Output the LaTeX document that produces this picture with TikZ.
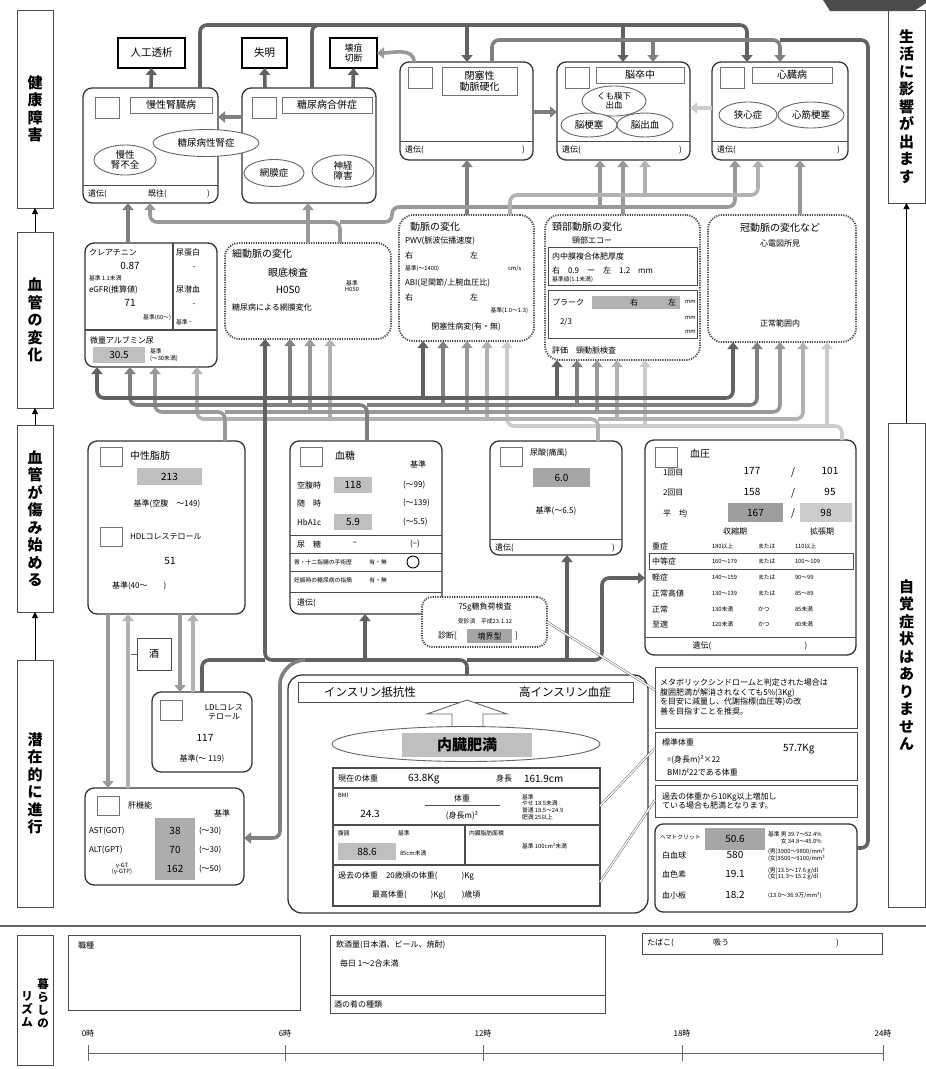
\documentclass[tikz,border=0pt]{standalone}
\usepackage{fontspec}
\setmainfont{Noto Sans CJK JP}
\usetikzlibrary{arrows.meta,shapes.geometric}
\begin{document}
\begin{tikzpicture}[x=1pt,y=-1pt,
 every node/.style={inner sep=0pt,outer sep=0pt},
 rbox/.style={draw=black!80,line width=1.3pt,rounded corners=9pt,anchor=north west},
 dbox/.style={draw=black!70,line width=1.8pt,dash pattern=on 1.2pt off 1.2pt,rounded corners=14pt,anchor=north west},
 pbox/.style={draw=black!70,line width=0.9pt,anchor=north west},
 obox/.style={draw=black,line width=2.2pt,anchor=north west,font=\fontsize{10.5}{11}\selectfont,align=center},
 lbl/.style={draw=black!70,line width=0.9pt,anchor=north west},
 vtx/.style={font=\fontsize{15}{17.5}\selectfont\bfseries,align=center},
 sqr/.style={draw=black!55,line width=0.9pt,minimum width=24pt,minimum height=21pt,anchor=north west},
 ttl/.style={draw=black!55,line width=0.9pt,anchor=north west,font=\fontsize{10}{11}\selectfont,align=center},
 ell/.style={draw=black!60,line width=0.9pt,ellipse,fill=white,font=\fontsize{9.5}{10}\selectfont,align=center},
 shd/.style={fill=black!25,anchor=north west,font=\fontsize{10}{11}\selectfont},
 txl/.style={font=\fontsize{11.5}{12}\selectfont},
 tx/.style={font=\fontsize{10}{11}\selectfont},
 txs/.style={font=\fontsize{8}{9.5}\selectfont},
 txt/.style={font=\fontsize{5.8}{6.6}\selectfont},
 lft/.style={anchor=west}, rgt/.style={anchor=east},
 thinl/.style={draw=black!70,line width=0.9pt},
 cn/.style={line width=3.6pt,rounded corners=7pt},
 ca/.style={cn,-{Triangle[width=11pt,length=7pt]}},
 c1/.style={draw=black!62}, c2/.style={draw=black!50}, c3/.style={draw=black!40},
 c4/.style={draw=black!30}, c5/.style={draw=black!20},
 upar/.style={draw=black,line width=0.9pt,-{Triangle[width=6pt,length=6pt]}},
 call/.style={draw=black!60,line width=0.5pt,double=white,double distance=1.3pt},
]
\useasboundingbox (0,0) rectangle (926,1069);
\fill[white] (0,0) rectangle (926,1069);
\fill[black!70] (823,0) -- (926,0) -- (926,3) -- (914,11) -- (830,11) -- cycle;

% ---------- side labels ----------
\node[lbl,minimum width=36,minimum height=198] (L1) at (17,10) {};
\node[vtx] (L1t) at (L1.center) {健\\康\\障\\害};
\node[lbl,minimum width=36,minimum height=176] (L2) at (17,232) {};
\node[vtx] (L2t) at (L2.center) {血\\管\\の\\変\\化};
\node[lbl,minimum width=36,minimum height=187] (L3) at (17,425) {};
\node[vtx] (L3t) at (L3.center) {血\\管\\が\\傷\\み\\始\\め\\る};
\node[lbl,minimum width=36,minimum height=247] (L4) at (17,660) {};
\node[vtx] (L4t) at (L4.center) {潜\\在\\的\\に\\進\\行};
\node[lbl,minimum width=37,minimum height=193] (R1) at (888,10) {};
\node[vtx] (R1t) at (R1.center) {生\\活\\に\\影\\響\\が\\出\\ま\\す};
\node[lbl,minimum width=37,minimum height=484] (R2) at (888,423) {};
\node[vtx] (R2t) at (R2.center) {自\\覚\\症\\状\\は\\あ\\り\\ま\\せ\\ん};
\draw[upar] (L2.north) -- (L1.south);
\draw[upar] (L3.north) -- (L2.south);
\draw[upar] (L4.north) -- (L3.south);
\draw[upar] (R2.north) -- (R1.south);

% ---------- row 1 ----------
\node[obox,minimum width=67,minimum height=30] (tou) at (118,38) {人工透析};
\node[obox,minimum width=45,minimum height=30] (shitsu) at (242,38) {失明};
\node[obox,minimum width=47,minimum height=30,font=\fontsize{9}{10}\selectfont] (eso) at (330,38) {壊疽\\切断};

\node[rbox,minimum width=135,minimum height=115] (ckd) at (83,88) {};
\node[sqr] (ckdsq) at (95,97) {};
\node[ttl,minimum width=82,minimum height=16] (ckdtl) at (130,97) {慢性腎臓病};
\draw[thinl] (ckd.west |- 0,185) -- (ckd.east |- 0,185);
\node[txs,lft] (ckdg) at (88,194) {遺伝(};
\node[txs,lft] (ckdk) at (148,194) {既往(};
\node[txs,lft] (ckdp) at (207,194) {)};

\node[rbox,minimum width=134,minimum height=115] (dm) at (242,88) {};
\node[sqr] (dmsq) at (252,97) {};
\node[ttl,minimum width=90,minimum height=16] (dmtl) at (282,97) {糖尿病合併症};
\node[ell,minimum width=60,minimum height=27] (e3) at (274,173) {網膜症};
\node[ell,minimum width=62,minimum height=32] (e4) at (343,171) {神経\\障害};
\node[ell,minimum width=62,minimum height=30] (e2) at (125,160) {慢性\\腎不全};
\node[ell,minimum width=106,minimum height=27] (e1) at (206,143) {糖尿病性腎症};

\node[rbox,minimum width=133,minimum height=98] (aso) at (400,62) {};
\node[sqr] (asosq) at (408,67) {};
\node[ttl,minimum width=75,minimum height=28] (asotl) at (442,67) {閉塞性\\動脈硬化};
\draw[thinl] (aso.west |- 0,141) -- (aso.east |- 0,141);
\node[txs,lft] (asog) at (405,150) {遺伝(};
\node[txs,lft] (asop) at (522,150) {)};

\node[rbox,minimum width=133,minimum height=98] (stk) at (557,62) {};
\node[sqr] (stksq) at (565,67) {};
\node[ttl,minimum width=88,minimum height=16] (stktl) at (596,67) {脳卒中};
\node[ell,minimum width=64,minimum height=30,font=\fontsize{8.5}{9}\selectfont] (e5) at (614,101) {くも膜下\\出血};
\node[ell,minimum width=56,minimum height=24] (e6) at (589,125) {脳梗塞};
\node[ell,minimum width=56,minimum height=24] (e7) at (645,125) {脳出血};
\draw[thinl] (stk.west |- 0,141) -- (stk.east |- 0,141);
\node[txs,lft] (stkg) at (562,150) {遺伝(};
\node[txs,lft] (stkp) at (679,150) {)};

\node[rbox,minimum width=136,minimum height=98] (heart) at (712,62) {};
\node[sqr] (hsq) at (720,67) {};
\node[ttl,minimum width=80,minimum height=16] (htl) at (752,67) {心臓病};
\node[ell,minimum width=58,minimum height=26] (e8) at (748,115) {狭心症};
\node[ell,minimum width=66,minimum height=26] (e9) at (811,115) {心筋梗塞};
\draw[thinl] (heart.west |- 0,141) -- (heart.east |- 0,141);
\node[txs,lft] (hg) at (717,150) {遺伝(};
\node[txs,lft] (hp) at (837,150) {)};

% ---------- row 2 ----------
\node[rbox,minimum width=132,minimum height=124] (kt) at (85,243) {};
\draw[thinl,line width=1.2pt] (173,243) -- (173,330);
\draw[thinl,line width=1.2pt] (kt.west |- 0,330) -- (kt.east |- 0,330);
\node[txs,lft] (k1) at (89,252) {クレアチニン};
\node[tx] (k2) at (130,266) {0.87};
\node[txt,lft] (k3) at (89,278) {基準 1.1未満};
\node[txs,lft] (k4) at (89,290) {eGFR(推算値)};
\node[tx] (k5) at (130,303) {71};
\node[txt,rgt] (k6) at (171,318) {基準(60～)};
\node[txs,lft] (k7) at (176,252) {尿蛋白};
\node[txs] (k8) at (194,268) {-};
\node[txs,lft] (k9) at (176,289) {尿潜血};
\node[txs] (k10) at (194,305) {-};
\node[txt,lft] (k11) at (176,322) {基準 −};
\node[txs,lft] (k12) at (90,340) {微量アルブミン尿};
\node[shd,minimum width=52,minimum height=16] (k13) at (93,347) {30.5};
\node[txt,lft,align=left] (k14) at (150,355) {基準\\(～30未満)};

\node[dbox,minimum width=166,minimum height=96] (eye) at (225,243) {};
\node[tx,lft] (y1) at (232,254) {細動脈の変化};
\node[tx] (y2) at (288,273) {眼底検査};
\node[tx] (y3) at (288,290) {H0S0};
\node[txt,align=center] (y4) at (352,286) {基準\\H0S0};
\node[txs,lft] (y5) at (232,307) {糖尿病による網膜変化};

\node[dbox,minimum width=135,minimum height=126] (art) at (399,215) {};
\node[tx,lft] (a1) at (410,227) {動脈の変化};
\node[txs,lft] (a2) at (405,241) {PWV(脈波伝播速度)};
\node[txs,lft] (a3) at (405,255) {右};
\node[txs,lft] (a4) at (470,255) {左};
\node[txt,lft] (a5) at (405,269) {基準(～1400)};
\node[txt,lft] (a6) at (508,269) {cm/s};
\node[txs,lft] (a7) at (405,283) {ABI(足関節/上腕血圧比)};
\node[txs,lft] (a8) at (405,297) {右};
\node[txs,lft] (a9) at (470,297) {左};
\node[txt,rgt] (a10) at (528,311) {基準(1.0～1.3)};
\node[txs] (a11) at (466,327) {閉塞性病変(有・無)};

\node[dbox,minimum width=155,minimum height=145] (car) at (545,215) {};
\node[tx,lft] (r1) at (552,227) {頸部動脈の変化};
\node[txs] (r2) at (592,240) {頸部エコー};
\node[pbox,minimum width=149,minimum height=38] (r3) at (548,247) {};
\node[txs,lft] (r4) at (552,256) {内中膜複合体肥厚度};
\node[txs,lft] (r5) at (552,270) {右　0.9　ー　左　1.2　mm};
\node[txt,lft] (r6) at (552,280) {基準値(1.1未満)};
\node[pbox,minimum width=149,minimum height=48] (r7) at (548,290) {};
\node[txs,lft] (r8) at (552,302) {プラーク};
\node[fill=black!30,anchor=north west,minimum width=88,minimum height=13] (r9) at (592,296) {};
\node[txs] (r10) at (634,302) {右};
\node[txs] (r11) at (672,302) {左};
\node[txt,lft] (r12) at (685,302) {mm};
\node[txs,lft] (r13) at (560,322) {2/3};
\node[txt,lft] (r14) at (685,318) {mm};
\node[txt,lft] (r15) at (685,332) {mm};
\node[txs,lft] (r16) at (552,350) {評価　頸動脈検査};

\node[dbox,minimum width=148,minimum height=127] (ecg) at (708,215) {};
\node[tx] (g1) at (780,228) {冠動脈の変化など};
\node[txs] (g2) at (780,243) {心電図所見};
\node[txs] (g3) at (780,323) {正常範囲内};

% ---------- row 3 ----------
\node[rbox,minimum width=157,minimum height=173] (fat) at (88,441) {};
\node[sqr,minimum width=22,minimum height=19] (fsq1) at (100,447) {};
\node[tx,lft] (f1) at (130,456) {中性脂肪};
\node[shd,minimum width=65,minimum height=17] (f2) at (137,468) {213};
\node[txs] (f3) at (167,504) {基準(空腹　～149)};
\node[sqr,minimum width=22,minimum height=19] (fsq2) at (100,527) {};
\node[txs,lft] (f4) at (130,537) {HDLコレステロール};
\node[tx] (f5) at (170,561) {51};
\node[txs,lft] (f6) at (112,586) {基準(40～　　)};

\node[rbox,minimum width=152,minimum height=173] (sugar) at (290,441) {};
\node[sqr,minimum width=22,minimum height=19] (ssq) at (300,447) {};
\node[tx,lft] (s1) at (335,456) {血糖};
\node[txs,lft] (s2) at (410,464) {基準};
\node[txs,lft] (s3) at (297,485) {空腹時};
\node[shd,minimum width=38,minimum height=16] (s4) at (334,477) {118};
\node[txs,lft] (s5) at (403,485) {(～99)};
\node[txs,lft] (s6) at (297,503) {随　時};
\node[txs,lft] (s7) at (403,503) {(～139)};
\node[txs,lft] (s8) at (297,522) {HbA1c};
\node[shd,minimum width=38,minimum height=16] (s9) at (334,514) {5.9};
\node[txs,lft] (s10) at (403,522) {(～5.5)};
\draw[thinl] (sugar.west |- 0,535) -- (sugar.east |- 0,535);
\node[txs,lft] (s11) at (297,544) {尿　糖};
\node[txs] (s12) at (355,544) {−};
\node[txs,lft] (s13) at (410,544) {(−)};
\draw[thinl] (sugar.west |- 0,553) -- (sugar.east |- 0,553);
\node[txt,lft] (s14) at (294,562) {胃・十二指腸の手術歴　　　有・無};
\draw[black,line width=0.9pt] (413,562) circle (6);
\draw[thinl] (sugar.west |- 0,571) -- (sugar.east |- 0,571);
\node[txt,lft] (s15) at (294,580) {妊娠時の糖尿病の指摘　　　有・無};
\draw[thinl] (sugar.west |- 0,592) -- (sugar.east |- 0,592);
\node[txs,lft] (s16) at (297,603) {遺伝(};
\node[txs,lft] (s17) at (432,603) {)};

\node[rbox,minimum width=132,minimum height=114] (uric) at (490,441) {};
\node[sqr,minimum width=22,minimum height=19] (usq) at (500,447) {};
\node[txs,lft] (u1) at (530,453) {尿酸(痛風)};
\node[shd,minimum width=57,minimum height=19,fill=black!35] (u2) at (533,468) {6.0};
\node[txs] (u3) at (556,511) {基準(～6.5)};
\draw[thinl] (uric.west |- 0,539) -- (uric.east |- 0,539);
\node[txs,lft] (u4) at (495,548) {遺伝(};
\node[txs,lft] (u5) at (612,548) {)};

\node[rbox,minimum width=211,minimum height=215] (bp) at (645,440) {};
\node[sqr,minimum width=22,minimum height=20] (bsq) at (655,447) {};
\node[tx,lft] (b1) at (690,454) {血圧};
\node[txs,lft] (b2) at (663,473) {1回目};
\node[tx] (b3) at (752,471) {177};
\node[tx] (b4) at (793,472) {/};
\node[tx] (b5) at (830,471) {101};
\node[txs,lft] (b6) at (663,493) {2回目};
\node[tx] (b7) at (752,492) {158};
\node[tx] (b8) at (793,493) {/};
\node[tx] (b9) at (830,492) {95};
\node[txs,lft] (b10) at (663,513) {平　均};
\node[shd,minimum width=55,minimum height=19,fill=black!38] (b11) at (728,503) {167};
\node[tx] (b12) at (793,513) {/};
\node[shd,minimum width=52,minimum height=19,fill=black!20] (b13) at (800,503) {98};
\node[txs] (b14) at (735,531) {収縮期};
\node[txs] (b15) at (822,531) {拡張期};
\draw[thinl] (649,553) rectangle (853,569);
\foreach \yy/\lb/\sy/\op/\dy [count=\i] in {546/重症/180以上/または/110以上,561/中等症/160～179/または/100～109,577/軽症/140～159/または/90～99,593/正常高値/130～139/または/85～89,609/正常/130未満/かつ/85未満,624/至適/120未満/かつ/80未満}{
 \node[txs,lft] (bl\i) at (652,\yy) {\lb};
 \node[txt,lft] (bs\i) at (712,\yy) {\sy};
 \node[txt,lft] (bo\i) at (758,\yy) {\op};
 \node[txt,lft] (bd\i) at (795,\yy) {\dy};
}
\draw[thinl] (bp.west |- 0,637) -- (bp.east |- 0,637);
\node[txs] (b16) at (702,646) {遺伝(};
\node[txs] (b17) at (806,646) {)};

\node[dbox,minimum width=125,minimum height=50,rounded corners=10pt,fill=white] (ogtt) at (422,597) {};
\node[txs] (o1) at (485,607) {75g糖負荷検査};
\node[txt] (o2) at (485,621) {受診済　平成23.1.12};
\node[txs,lft] (o3) at (438,636) {診断[};
\node[shd,minimum width=45,minimum height=14,fill=black!35,font=\fontsize{8}{9}\selectfont] (o4) at (467,629) {境界型};
\node[txs,lft] (o5) at (515,636) {]};

% ---------- row 4 ----------
\node[pbox,minimum width=34,minimum height=32,font=\fontsize{10}{11}\selectfont] (sake) at (137,638) {酒};

\node[rbox,minimum width=100,minimum height=80] (ldl) at (152,692) {};
\node[sqr,minimum width=22,minimum height=20] (lsq) at (160,700) {};
\node[txs,align=center] (l1) at (224,712) {LDLコレス\\テロール};
\node[tx] (l2) at (205,738) {117};
\node[txs] (l3) at (202,759) {基準(～ 119)};

\node[rbox,minimum width=159,minimum height=97] (liver) at (85,788) {};
\node[sqr,minimum width=22,minimum height=19] (vsq) at (97,796) {};
\node[txs,lft] (v1) at (128,805) {肝機能};
\node[txs] (v2) at (222,813) {基準};
\node[fill=black!32,anchor=north west,minimum width=40,minimum height=62] (v3) at (155,818) {};
\node[txs,lft] (v4) at (89,831) {AST(GOT)};
\node[tx] (v5) at (175,831) {38};
\node[txs,lft] (v6) at (199,831) {(～30)};
\node[txs,lft] (v7) at (89,850) {ALT(GPT)};
\node[tx] (v8) at (175,850) {70};
\node[txs,lft] (v9) at (199,850) {(～30)};
\node[txt,align=center] (v10) at (122,869) {γ-GT\\(γ-GTP)};
\node[tx] (v11) at (175,869) {162};
\node[txs,lft] (v12) at (199,869) {(～50)};

\node[rbox,minimum width=360,minimum height=238,rounded corners=14pt] (obes) at (288,675) {};
\node[pbox,minimum width=335,minimum height=20] (bar) at (298,682) {};
\node[txl] (ob1) at (370,692) {インスリン抵抗性};
\node[txl] (ob2) at (565,692) {高インスリン血症};
\draw[black!60,line width=0.9pt,fill=white] (452,740) -- (452,714) -- (427,714) -- (467,700) -- (507,714) -- (483,714) -- (483,740);
\node[ell,minimum width=268,minimum height=35] (oell) at (466,744) {};
\node[shd,minimum width=130,minimum height=24,font=\fontsize{15}{16}\selectfont\bfseries] (ob3) at (402,733) {内臓肥満};
\node[pbox,minimum width=267,minimum height=138,line width=1.3pt] (tbl) at (333,768) {};
\draw[thinl,line width=1.2pt] (tbl.west |- 0,788) -- (tbl.east |- 0,788);
\draw[thinl,line width=1.2pt] (tbl.west |- 0,825) -- (tbl.east |- 0,825);
\draw[thinl,line width=1.2pt] (tbl.west |- 0,865) -- (tbl.east |- 0,865);
\draw[thinl,line width=1.2pt] (465,825) -- (465,865);
\node[txs,lft] (t1) at (338,778) {現在の体重};
\node[tx,lft] (t2) at (408,779) {63.8Kg};
\node[txs,lft] (t3) at (496,778) {身長};
\node[tx,lft] (t4) at (524,779) {161.9cm};
\node[txt,lft] (t5) at (338,795) {BMI};
\node[tx] (t6) at (370,814) {24.3};
\node[txs] (t7) at (462,798) {体重};
\draw[thinl] (425,805) -- (500,805);
\node[txs] (t8) at (462,816) {(身長m)²};
\node[txt,lft,align=left] (t9) at (522,807) {基準\\やせ 18.5未満\\普通 18.5～24.9\\肥満 25以上};
\node[txt,lft] (t10) at (338,833) {腹囲};
\node[txt,lft] (t11) at (398,833) {基準};
\node[shd,minimum width=58,minimum height=17] (t12) at (338,843) {88.6};
\node[txt,lft] (t13) at (400,853) {85cm未満};
\node[txt,lft] (t14) at (469,833) {内臓脂肪面積};
\node[txt,lft] (t15) at (522,846) {基準 100cm²未満};
\node[txs,lft] (t16) at (338,876) {過去の体重　20歳頃の体重(　　　)Kg};
\node[txs,lft] (t17) at (372,895) {最高体重(　　　)Kg(　　)歳頃};

% notes
\node[pbox,minimum width=202,minimum height=61] (nt1) at (655,667) {};
\node[txs,lft,align=left] (nt1t) at (660,697) {メタボリックシンドロームと判定された場合は\\腹囲肥満が解消されなくても5\%(3Kg)\\を目安に減量し、代謝指標(血圧等)の改\\善を目指すことを推奨。};
\node[pbox,minimum width=202,minimum height=48] (nt2) at (655,732) {};
\node[txs,lft] (nt2a) at (662,742) {標準体重};
\node[tx,lft] (nt2b) at (783,749) {57.7Kg};
\node[txs,lft] (nt2c) at (667,760) {=(身長m)²×22};
\node[txs,lft] (nt2d) at (667,772) {BMIが22である体重};
\node[pbox,minimum width=202,minimum height=32] (nt3) at (655,785) {};
\node[txs,lft,align=left] (nt3t) at (662,801) {過去の体重から10Kg以上増加し\\ている場合も肥満となります。};
\node[rbox,minimum width=202,minimum height=88,rounded corners=8pt] (blood) at (655,824) {};
\node[txt,lft] (bd1) at (660,837) {ヘマトクリット};
\node[shd,minimum width=60,minimum height=22,fill=black!35] (bd2) at (705,828) {50.6};
\node[txt,lft,align=left] (bd3) at (768,838) {基準 男 39.7～52.4\%\\　　 女 34.8～45.0\%};
\node[txs,lft] (bd4) at (662,855) {白血球};
\node[tx] (bd5) at (735,855) {580};
\node[txt,lft,align=left] (bd6) at (768,855) {(男)3900～9800/mm³\\(女)3500～9100/mm³};
\node[txs,lft] (bd7) at (662,874) {血色素};
\node[tx] (bd8) at (735,874) {19.1};
\node[txt,lft,align=left] (bd9) at (768,874) {(男)13.5～17.6 g/dl\\(女)11.3～15.2 g/dl};
\node[txs,lft] (bd10) at (662,895) {血小板};
\node[tx] (bd11) at (735,895) {18.2};
\node[txt,lft] (bd12) at (768,895) {(13.0～36.9万/mm³)};

% ---------- bottom ----------
\draw[black!60,line width=1.2pt] (0,926) -- (926,926);
\node[lbl,minimum width=36,minimum height=130] (L5) at (17,935) {};
\node[font=\fontsize{11.5}{13}\selectfont\bfseries,align=center] (L5a) at (43,1003) {暮\\ら\\し\\の};
\node[font=\fontsize{11.5}{13}\selectfont\bfseries,align=center] (L5b) at (27,1009) {リ\\ズ\\ム};
\node[pbox,minimum width=232,minimum height=75] (job) at (68,935) {};
\node[txs,lft] (jb1) at (78,945) {職種};
\node[pbox,minimum width=275,minimum height=78] (drink) at (330,935) {};
\node[txs,lft] (dk1) at (336,945) {飲酒量(日本酒、ビール、焼酎)};
\node[txs,lft] (dk2) at (340,963) {毎日 1～2合未満};
\draw[thinl] (drink.west |- 0,995) -- (drink.east |- 0,995);
\node[txs,lft] (dk3) at (334,1004) {酒の肴の種類};
\node[pbox,minimum width=240,minimum height=21] (tab) at (642,933) {};
\node[txs,lft] (tb1) at (647,943) {たばこ(};
\node[txs,lft] (tb2) at (713,943) {吸う};
\node[txs,lft] (tb3) at (836,943) {)};
\draw[black!60,line width=0.8pt] (88,1053) -- (883,1053);
\foreach \xx/\lb [count=\i] in {88/0時,285/6時,483/12時,682/18時,883/24時}{
 \node[txs] (tm\i) at (\xx,1033) {\lb};
 \draw[black!60,line width=0.8pt] (\xx,1045) -- (\xx,1061);
}

% ---------- connectors: row 1 ----------
\draw[ca,c1] (ckd.north -| 151,0) -- (tou.south);
\draw[ca,c1] (dm.north -| 265,0) -- (shitsu.south);
\draw[ca,c1] (dm.north -| 353,0) -- (eso.south);
\draw[ca,c2] (dm.west |- 0,117) -- (ckd.east |- 0,117);
\draw[ca,c3] (aso.north -| 414,0) to[out=90,in=0] (eso.east);
\draw[ca,c2] (aso.east |- 0,112) -- (stk.west |- 0,112);
\draw[ca,c5] (heart.west |- 0,108) -- (stk.east |- 0,108);
% top buses
\draw[ca,c1] (ckd.north -| 200,0) -- (200,25) -- (747,25) -- (heart.north -| 747,0);
\draw[cn,c1] (dm.north -| 312,0) -- (312,25) -- (345,25);
\draw[ca,c1] (467,25) -- (aso.north -| 467,0);
\draw[ca,c1] (623,25) -- (stk.north -| 623,0);
\draw[ca,c2] (aso.north -| 492,0) -- (492,40) -- (780,40) -- (heart.north -| 780,0);
\draw[ca,c2] (653,40) -- (stk.north -| 653,0);
\draw[cn,c1] (blood.east |- 0,848) -- (868,848) -- (868,40) -- (780,40);

% ---------- connectors: row 2 -> row 1 ----------
\draw[ca,c2] (kt.north -| 128,0) -- (ckd.south -| 128,0);
\draw[ca,c3] (eye.north -| 308,0) -- (dm.south -| 308,0);
\draw[ca,c2] (art.north -| 467,0) -- (aso.south -| 467,0);
\draw[ca,c3] (car.north -| 623,0) -- (stk.south -| 623,0);
\draw[ca,c3] (ecg.north -| 800,0) -- (heart.south -| 800,0);
\draw[ca,c3] (eye.north -| 340,0) -- (340,222) -- (150,222) -- (ckd.south -| 150,0);
\draw[ca,c3] (340,222) -- (392,222) -- (392,207) -- (735,207) -- (heart.south -| 735,0);
\draw[ca,c3] (600,207) -- (stk.south -| 600,0);
\draw[ca,c4] (art.north -| 510,0) -- (510,195) -- (758,195) -- (heart.south -| 758,0);
\draw[ca,c4] (645,195) -- (stk.south -| 645,0);

% ---------- connectors: row 3 -> row 2 ----------
% bus 5 (blood pressure)
\draw[ca,c5] (bp.north -| 842,0) -- (842,426) -- (507,426) -- (art.south -| 507,0);
\draw[ca,c5] (645,426) -- (car.south -| 645,0);
\draw[ca,c5] (827,426) -- (ecg.south -| 827,0);
% bus 4 (uric acid)
\draw[ca,c4] (uric.north -| 598,0) -- (598,419) -- (197,419) -- (kt.south -| 197,0);
\draw[ca,c4] (598,419) -- (803,419) -- (ecg.south -| 803,0);
\draw[ca,c4] (330,419) -- (eye.south -| 330,0);
\draw[ca,c4] (487,419) -- (art.south -| 487,0);
\draw[ca,c4] (617,419) -- (car.south -| 617,0);
% bus 3 (lipids)
\draw[ca,c3] (fat.north -| 225,0) -- (225,412) -- (155,412) -- (kt.south -| 155,0);
\draw[ca,c3] (225,412) -- (780,412) -- (ecg.south -| 780,0);
\draw[ca,c3] (310,412) -- (eye.south -| 310,0);
\draw[ca,c3] (467,412) -- (art.south -| 467,0);
\draw[ca,c3] (597,412) -- (car.south -| 597,0);
% bus 2 (glucose)
\draw[ca,c2] (sugar.north -| 367,0) -- (367,405) -- (130,405) -- (kt.south -| 130,0);
\draw[ca,c2] (367,405) -- (757,405) -- (ecg.south -| 757,0);
\draw[ca,c2] (290,405) -- (eye.south -| 290,0);
\draw[ca,c2] (443,405) -- (art.south -| 443,0);
\draw[ca,c2] (577,405) -- (car.south -| 577,0);
% bus 1 (visceral fat)
\draw[ca,c1] (obes.north -| 467,0) -- (467,660) -- (265,660) -- (eye.south -| 265,0);
\draw[ca,c1] (265,398) -- (97,398) -- (kt.south -| 97,0);
\draw[ca,c1] (265,398) -- (733,398) -- (ecg.south -| 733,0);
\draw[ca,c1] (423,398) -- (art.south -| 423,0);
\draw[ca,c1] (557,398) -- (car.south -| 557,0);
\draw[cn,c1] (ldl.north -| 202,0) -- (202,660) -- (265,660);
\draw[ca,c1] (467,660) -- (602,660) -- (602,578) -- (bp.west |- 0,578);
\draw[ca,c1] (365,660) -- (sugar.south -| 365,0);
\draw[ca,c1] (567,660) -- (uric.south -| 567,0);
\draw[ca,c2] (305,660) to[out=180,in=90] (280,690) -- (280,838) -- (liver.east |- 0,838);
% fat / liver / LDL
\draw[ca,c3] (fat.south -| 108,0) -- (liver.north -| 108,0);
\draw[ca,c4] (liver.north -| 128,0) -- (fat.south -| 128,0);
\draw[ca,c3] (fat.south -| 180,0) -- (ldl.north -| 180,0);
\draw[ca,c4] (ldl.north -| 193,0) -- (fat.south -| 193,0);
\draw[black!60,line width=0.8pt] (sake.west) -- (sake.west -| 131,0);
% callouts
\draw[call] (tbl.east |- 0,806) -- (nt2.west |- 0,748);
\draw[call] (tbl.east |- 0,882) -- (nt3.west |- 0,800);
\draw[call] (ogtt.east) -- (nt1.west |- 0,690);
\end{tikzpicture}
\end{document}
